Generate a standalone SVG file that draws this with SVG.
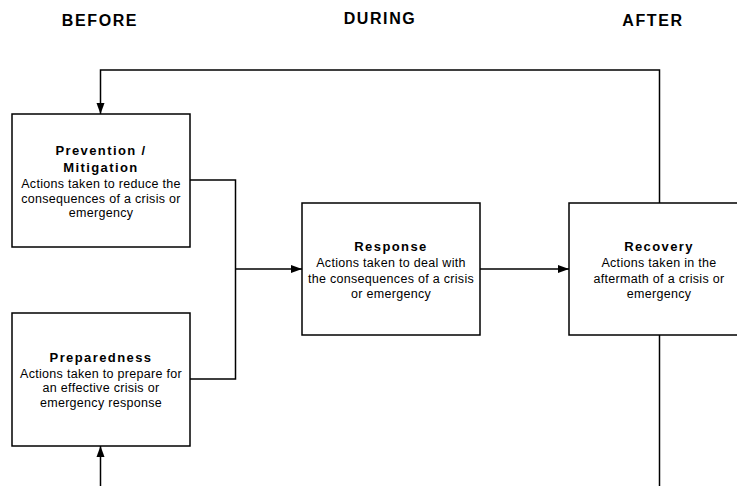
<svg xmlns="http://www.w3.org/2000/svg" width="737" height="486" viewBox="0 0 737 486">
  <defs>
    <marker id="arrow" markerUnits="userSpaceOnUse" markerWidth="12" markerHeight="9" refX="11" refY="4.5" orient="auto">
      <path d="M0,0.5 L11,4.5 L0,8.5 Z" fill="#000"/>
    </marker>
    <style>
      .box { fill: #fff; stroke: #000; stroke-width: 1.5; }
      .conn { fill: none; stroke: #000; stroke-width: 1.5; }
      .head { font-family: "Liberation Sans", Arial, sans-serif; font-weight: bold; font-size: 16px; letter-spacing: 1.6px; text-anchor: middle; fill: #000; }
      .title { font-family: "Liberation Sans", Arial, sans-serif; font-weight: bold; font-size: 13px; letter-spacing: 1.4px; text-anchor: middle; fill: #000; }
      .body { font-family: "Liberation Sans", Arial, sans-serif; font-size: 12.5px; letter-spacing: 0.3px; text-anchor: middle; fill: #000; }
    </style>
  </defs>
  <rect width="737" height="486" fill="#fff"/>

  <g id="headers">
    <text class="head" x="100" y="26">BEFORE</text>
    <text class="head" x="380" y="24">DURING</text>
    <text class="head" x="653" y="26">AFTER</text>
  </g>

  <g id="connectors">
    <polyline class="conn" points="190,180 235.5,180 235.5,379 190,379"/>
    <line class="conn" x1="235.5" y1="269" x2="302" y2="269" marker-end="url(#arrow)"/>
    <line class="conn" x1="480" y1="269" x2="569" y2="269" marker-end="url(#arrow)"/>
    <polyline class="conn" points="659.5,203 659.5,70 100.5,70 100.5,114" marker-end="url(#arrow)"/>
    <line class="conn" x1="659.5" y1="335" x2="659.5" y2="490"/>
    <line class="conn" x1="100.5" y1="490" x2="100.5" y2="446" marker-end="url(#arrow)"/>
  </g>

  <g id="prevention">
    <rect class="box" x="12" y="114" width="178" height="133"/>
    <text class="title" x="101" y="155">Prevention /</text>
    <text class="title" x="101" y="171.5">Mitigation</text>
    <text class="body" x="101" y="187.5">Actions taken to reduce the</text>
    <text class="body" x="101" y="202.5">consequences of a crisis or</text>
    <text class="body" x="101" y="217">emergency</text>
  </g>

  <g id="preparedness">
    <rect class="box" x="12" y="313" width="178" height="133"/>
    <text class="title" x="101" y="362">Preparedness</text>
    <text class="body" x="101" y="377.5">Actions taken to prepare for</text>
    <text class="body" x="101" y="392">an effective crisis or</text>
    <text class="body" x="101" y="407">emergency response</text>
  </g>

  <g id="response">
    <rect class="box" x="302" y="203" width="178" height="132"/>
    <text class="title" x="391" y="251">Response</text>
    <text class="body" x="391" y="267">Actions taken to deal with</text>
    <text class="body" x="391" y="282.5">the consequences of a crisis</text>
    <text class="body" x="391" y="297.5">or emergency</text>
  </g>

  <g id="recovery">
    <rect class="box" x="569" y="203" width="180" height="132"/>
    <text class="title" x="659" y="251">Recovery</text>
    <text class="body" x="659" y="267">Actions taken in the</text>
    <text class="body" x="659" y="282.5">aftermath of a crisis or</text>
    <text class="body" x="659" y="297.5">emergency</text>
  </g>
</svg>
